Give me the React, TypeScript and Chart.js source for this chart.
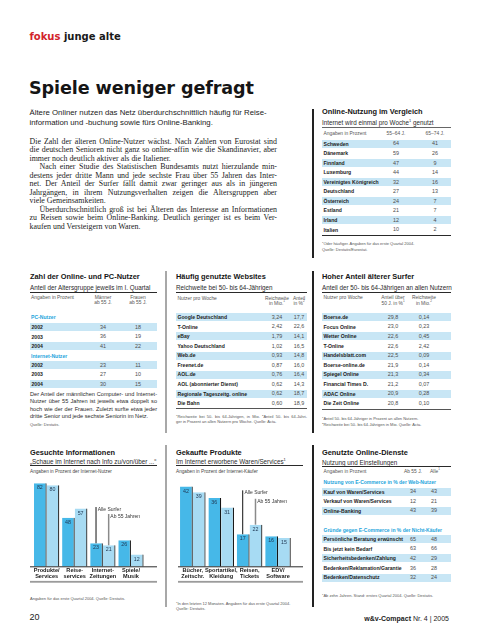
import React, { useEffect, useRef } from 'react';
import { Chart, registerables } from 'chart.js';
Chart.register(...registerables);

// ---------- data ----------
const onlineCountries = ['Schweden', 'Dänemark', 'Finnland', 'Luxemburg', 'Vereinigtes Königreich', 'Deutschland', 'Österreich', 'Estland', 'Irland', 'Italien'];
const online5564 = [64, 59, 47, 44, 32, 27, 24, 21, 12, 10];
const online6574 = [41, 26, 9, 14, 16, 13, 7, 7, 4, 2];

const years = ['2002', '2003', '2004'];
const pcMen = [34, 36, 41];
const pcWomen = [18, 19, 22];
const netMen = [23, 27, 30];
const netWomen = [11, 10, 15];

const websites = ['Google Deutschland', 'T-Online', 'eBay', 'Yahoo Deutschland', 'Web.de', 'Freenet.de', 'AOL.de', 'AOL (abonnierter Dienst)', 'Regionale Tageszeitg. online', 'Die Bahn'];
const websiteReach = [3.24, 2.42, 1.79, 1.02, 0.93, 0.87, 0.76, 0.62, 0.62, 0.6];
const websiteShare = [17.7, 22.6, 14.1, 16.5, 14.8, 16.0, 16.4, 14.3, 18.7, 18.9];

const olderSites = ['Boerse.de', 'Focus Online', 'Wetter Online', 'T-Online', 'Handelsblatt.com', 'Boerse-online.de', 'Spiegel Online', 'Financial Times D.', 'ADAC Online', 'Die Zeit Online'];
const olderShare = [29.8, 23.0, 22.6, 22.6, 22.5, 21.9, 21.3, 21.2, 20.9, 20.8];
const olderReach = [0.14, 0.23, 0.45, 2.42, 0.09, 0.14, 0.34, 0.07, 0.28, 0.1];

const seriesNames = ['Alle Surfer', 'Ab 55 Jahren'];

const infoCategories = [['Produkte/', 'Services'], ['Reise-', 'services'], ['Internet-', 'Zeitungen'], ['Spiele/', 'Musik']];
const infoAll = [82, 48, 23, 26];
const info55 = [80, 57, 21, 12];

const buyCategories = [['Bücher,', 'Zeitschr.'], ['Sportartikel,', 'Kleidung'], ['Reisen,', 'Tickets'], ['EDV/', 'Software']];
const buyAll = [42, 36, 17, 16];
const buy55 = [39, 31, 22, 15];

const ecomUses = ['Kauf von Waren/Services', 'Verkauf von Waren/Services', 'Online-Banking'];
const ecomUse55 = [34, 12, 43];
const ecomUseAll = [43, 21, 39];
const ecomReasons = ['Persönliche Beratung erwünscht', 'Bis jetzt kein Bedarf', 'Sicherheitsbedenken/Zahlung', 'Bedenken/Reklamation/Garantie', 'Bedenken/Datenschutz'];
const ecomReason55 = [65, 63, 42, 36, 32];
const ecomReasonAll = [48, 66, 29, 28, 24];

// ---------- text ----------
const leadLines = [
  'Ältere Onliner nutzen das Netz überdurchschnittlich häufig für Reise-',
  'information und -buchung sowie fürs Online-Banking.',
];
const bodyLines: [string, boolean, boolean][] = [
  ['Die Zahl der älteren Online-Nutzer wächst. Nach Zahlen von Eurostat sind', false, true],
  ['die deutschen Senioren nicht ganz so online-affin wie die Skandinavier, aber', false, true],
  ['immer noch deutlich aktiver als die Italiener.', false, false],
  ['Nach einer Studie des Statistischen Bundesamts nutzt hierzulande min-', true, true],
  ['destens jeder dritte Mann und jede sechste Frau über 55 Jahren das Inter-', false, true],
  ['net. Der Anteil der Surfer fällt damit zwar geringer aus als in jüngeren', false, true],
  ['Jahrgängen, in ihrem Nutzungsverhalten zeigen die Altersgruppen aber', false, true],
  ['viele Gemeinsamkeiten.', false, false],
  ['Überdurchschnittlich groß ist bei Älteren das Interesse an Informationen', true, true],
  ['zu Reisen sowie beim Online-Banking. Deutlich geringer ist es beim Ver-', false, true],
  ['kaufen und Versteigern von Waren.', false, false],
];
const noteLines = [
  'Der Anteil der männlichen Computer- und Internet-',
  'Nutzer über 55 Jahren ist jeweils etwa doppelt so',
  'hoch wie der der Frauen. Zuletzt surfte etwa jeder',
  'dritte Senior und jede sechste Seniorin im Netz.',
];

// ---------- styles ----------
const SANS = '"Liberation Sans", Arial, Helvetica, sans-serif';
const SERIF = '"Liberation Serif", "Times New Roman", serif';
const WIDE = '"DejaVu Sans", "Liberation Sans", sans-serif';
const BAND = '#c8e6f5';
const CYAN = '#1ea5dc';
const RED = '#d2232a';
const DARK_BAR = '#46b8e8';
const LIGHT_BAR = '#a7dbf3';

const de = (v: number, d: number) => v.toFixed(d).replace('.', ',');

function Txt(p: any) {
  const { x, y, s, children, w = 400, c = '#1a1a1a', a = 'left', f = SANS, width, justify, ls } = p;
  const lh = s * 1.25;
  const st: any = {
    position: 'absolute', top: y - lh / 2, fontSize: s, lineHeight: lh + 'px', fontWeight: w,
    color: c, fontFamily: f, whiteSpace: 'nowrap', letterSpacing: ls,
  };
  if (width !== undefined) {
    st.left = x; st.width = width; st.whiteSpace = 'normal';
    st.textAlign = justify ? 'justify' : 'left';
    st.textAlignLast = justify ? 'justify' : 'left';
  } else if (a === 'left') st.left = x;
  else if (a === 'right') st.right = 480 - x;
  else { st.left = x - 60; st.width = 120; st.textAlign = 'center'; }
  return <div style={st}>{children}</div>;
}

const Sup = ({ children }: any) => (
  <span style={{ fontSize: '0.62em', verticalAlign: 'super', lineHeight: 0 }}>{children}</span>
);

function Rule({ x0, x1, y, h = 0.8, c = '#2a2a2a' }: any) {
  return <div style={{ position: 'absolute', left: x0, top: y - h / 2, width: x1 - x0, height: h, background: c }} />;
}
function VRule({ x, y0, y1, w = 1.6, c = '#222' }: any) {
  return <div style={{ position: 'absolute', left: x - w / 2, top: y0, width: w, height: y1 - y0, background: c }} />;
}

function Row({ y, x0, x1, band, name, vals, cols }: any) {
  return (
    <>
      {band && <div style={{ position: 'absolute', left: x0, top: y - 4, width: x1 - x0, height: 8, background: BAND }} />}
      <Txt x={x0 + 1.5} y={y} s={5.1} w={700}>{name}</Txt>
      {vals.map((v: string, k: number) => (
        <Txt key={k} x={cols[k]} y={y} s={5.4} a="center" c="#4d4d4d">{v}</Txt>
      ))}
    </>
  );
}

const Head = ({ x, y, children }: any) => <Txt x={x} y={y} s={7.4} w={700} c="#151515">{children}</Txt>;
const Sub = ({ x, y, children }: any) => <Txt x={x} y={y} s={6.3} c="#2a2a2a">{children}</Txt>;
const Small = ({ x, y, children, a, c = '#555' }: any) => <Txt x={x} y={y} s={4.9} a={a} c={c}>{children}</Txt>;
const Foot = ({ x, y, children, width, justify }: any) => (
  <Txt x={x} y={y} s={4.0} c="#555" width={width} justify={justify}>{children}</Txt>
);

// ---------- chart ----------
const decor = {
  id: 'decor',
  afterDatasetsDraw(chart: any, _a: any, opts: any) {
    const { ctx, scales, width } = chart;
    const yb = scales.y.getPixelForValue(0);
    ctx.save();
    ctx.fillStyle = '#2b2b2b';
    ctx.fillRect(0, yb - 0.4, width, 1);
    ctx.fillStyle = '#9b9b9b';
    ctx.fillRect(0, yb + 14.2, width, 1.8);
    ctx.textAlign = 'center';
    ctx.textBaseline = 'middle';
    ctx.font = `5.3px ${SANS}`;
    ctx.fillStyle = '#1f3652';
    chart.data.datasets.forEach((ds: any, d: number) => {
      chart.getDatasetMeta(d).data.forEach((el: any, i: number) => {
        ctx.fillText(String(ds.data[i]), el.x - 0.5, el.y + 4.6);
      });
    });
    const anno = opts.anno as number[];
    ctx.textAlign = 'left';
    ctx.font = `5px ${SANS}`;
    chart.data.datasets.forEach((ds: any, d: number) => {
      const el: any = chart.getDatasetMeta(d).data[opts.idx];
      const ty = scales.y.getPixelForValue(anno[d]);
      ctx.strokeStyle = d === 0 ? '#111' : '#8a8a8a';
      ctx.lineWidth = d === 0 ? 1 : 1.5;
      ctx.beginPath();
      ctx.moveTo(el.x - 0.5, el.y);
      ctx.lineTo(el.x - 0.5, ty - 2.6);
      ctx.stroke();
      ctx.fillStyle = '#333';
      ctx.fillText(ds.label, el.x + 1.2, ty);
    });
    ctx.restore();
  },
};

function GroupedBars({ left, width, labels, all, older, max, padL, padR, anno }: any) {
  const ref = useRef<HTMLCanvasElement>(null);
  useEffect(() => {
    const border = { top: 0, right: 1.2, bottom: 0, left: 0 };
    const c = new Chart(ref.current!, {
      type: 'bar',
      data: {
        labels,
        datasets: [
          { label: seriesNames[0], data: all, backgroundColor: DARK_BAR, borderColor: '#151515', borderWidth: border, borderSkipped: false },
          { label: seriesNames[1], data: older, backgroundColor: LIGHT_BAR, borderColor: '#151515', borderWidth: border, borderSkipped: false },
        ],
      },
      options: {
        animation: false,
        responsive: false,
        events: [],
        layout: { padding: { left: padL, right: padR, top: 5, bottom: 10.1 } },
        datasets: { bar: { categoryPercentage: 0.9, barPercentage: 1 } },
        plugins: { legend: { display: false }, tooltip: { enabled: false }, decor: { anno, idx: 2 } },
        scales: {
          x: {
            grid: { display: false, drawTicks: false },
            border: { display: false },
            ticks: { color: '#1a1a1a', autoSkip: false, maxRotation: 0, padding: 1, font: { family: SANS, size: 5.6, weight: 'bold', lineHeight: 1 } },
          },
          y: { display: false, min: 0, max },
        },
      } as any,
      plugins: [decor as any],
    });
    return () => c.destroy();
  }, []);
  return <canvas ref={ref} width={width} height={120} style={{ position: 'absolute', left, top: 470, width, height: 120 }} />;
}

// ---------- page ----------
export default function App() {
  useEffect(() => { document.body.style.margin = '0'; }, []);
  const TR = { x0: 322, x1: 451 };
  return (
    <div style={{ position: 'absolute', left: 0, top: 0, width: 480, height: 640, background: '#fff', overflow: 'hidden' }}>
      {/* header */}
      <Txt x={29.5} y={37.5} s={10} w={700} f={WIDE} c="#1a1a1a"><span style={{ color: RED }}>fokus</span> junge alte</Txt>
      <Txt x={29} y={88} s={17.6} w={700} f={WIDE} c="#151515" ls={-0.1}>Spiele weniger gefragt</Txt>
      {leadLines.map((l, i) => <Txt key={i} x={29.5} y={113.3 + i * 10} s={7.8} c="#222">{l}</Txt>)}
      {bodyLines.map(([l, indent, just], i) => (
        <Txt key={i} x={indent ? 39.5 : 29.5} y={141.7 + i * 8.5} s={7.9} f={SERIF} c="#222" width={indent ? 237.5 : 247.5} justify={just}>{l}</Txt>
      ))}

      {/* top right table */}
      <VRule x={313} y0={109} y1={258} />
      <Head x={TR.x0} y={111.7}>Online-Nutzung im Vergleich</Head>
      <Sub x={TR.x0} y={122.8}>Internet wird einmal pro Woche<Sup>1</Sup> genutzt</Sub>
      <Rule x0={TR.x0} x1={TR.x1} y={127.3} h={1.6} c="#666" />
      <Small x={TR.x0 + 1.5} y={134.3}>Angaben in Prozent</Small>
      <Small x={396} y={134.3} a="center">55–64 J.</Small>
      <Small x={435} y={134.3} a="center">65–74 J.</Small>
      {onlineCountries.map((n, i) => (
        <Row key={n} y={143.8 + i * 9.55} x0={TR.x0} x1={TR.x1} band={i % 2 === 0} name={n}
          vals={[String(online5564[i]), String(online6574[i])]} cols={[396, 435]} />
      ))}
      <Rule x0={TR.x0} x1={TR.x1} y={235} />
      <Foot x={TR.x0} y={243}><Sup>1</Sup>Oder häufiger. Angaben für das erste Quartal 2004.</Foot>
      <Foot x={TR.x0} y={249.3}>Quelle: Destatis/Eurostat.</Foot>

      {/* middle separators */}
      <VRule x={166} y0={271} y1={433} c="#a8a8a8" />
      <VRule x={313} y0={271} y1={433} />

      {/* col 1 middle */}
      <Head x={30} y={277}>Zahl der Online- und PC-Nutzer</Head>
      <Sub x={30} y={288}>Anteil der Altersgruppe jeweils im I. Quartal</Sub>
      <Rule x0={30} x1={157} y={292.5} />
      <Small x={31} y={297.8}>Angaben in Prozent</Small>
      <Small x={103} y={297.8} a="center">Männer</Small>
      <Small x={103} y={303.3} a="center">ab 55 J.</Small>
      <Small x={138} y={297.8} a="center">Frauen</Small>
      <Small x={138} y={303.3} a="center">ab 55 J.</Small>
      <Txt x={31} y={317.3} s={5.1} w={700} c={CYAN}>PC-Nutzer</Txt>
      {years.map((yr, i) => (
        <Row key={'pc' + yr} y={327.3 + i * 9.4} x0={30} x1={157} band={i % 2 === 0} name={yr}
          vals={[String(pcMen[i]), String(pcWomen[i])]} cols={[103, 138]} />
      ))}
      <Txt x={31} y={355.7} s={5.1} w={700} c={CYAN}>Internet-Nutzer</Txt>
      {years.map((yr, i) => (
        <Row key={'net' + yr} y={365 + i * 9.5} x0={30} x1={157} band={i % 2 === 0} name={yr}
          vals={[String(netMen[i]), String(netWomen[i])]} cols={[103, 138]} />
      ))}
      {noteLines.map((l, i) => (
        <Txt key={i} x={30} y={394 + i * 7.65} s={5.6} c="#2a2a2a" width={127} justify={i < 3}>{l}</Txt>
      ))}
      <Foot x={30} y={424.3}>Quelle: Destatis.</Foot>

      {/* col 2 middle */}
      <Head x={176} y={277}>Häufig genutzte Websites</Head>
      <Sub x={176} y={288}>Reichweite bei 50- bis 64-Jährigen</Sub>
      <Rule x0={176} x1={307} y={292.5} />
      <Small x={177.5} y={298.8}>Nutzer pro Woche</Small>
      <Small x={277} y={298.8} a="center">Reichweite</Small>
      <Small x={277} y={304.3} a="center">in Mio.<Sup>1</Sup></Small>
      <Small x={299} y={298.8} a="center">Anteil</Small>
      <Small x={299} y={304.3} a="center">in %<Sup>2</Sup></Small>
      {websites.map((n, i) => (
        <Row key={n} y={317.3 + i * 9.55} x0={176} x1={307} band={i % 2 === 0} name={n}
          vals={[de(websiteReach[i], 2), de(websiteShare[i], 1)]} cols={[277, 299]} />
      ))}
      <Rule x0={176} x1={307} y={408.5} c="#555" />
      <Foot x={176} y={416} width={131} justify><Sup>1</Sup>Reichweite bei 50- bis 64-Jährigen, in Mio. <Sup>2</Sup>Anteil 50- bis 64-Jähri-</Foot>
      <Foot x={176} y={421.7}>ger in Prozent an allen Nutzern pro Woche. Quelle: Acta.</Foot>

      {/* col 3 middle */}
      <Head x={TR.x0} y={277}>Hoher Anteil älterer Surfer</Head>
      <Sub x={TR.x0} y={288}>Anteil der 50- bis 64-Jährigen an allen Nutzern</Sub>
      <Rule x0={TR.x0} x1={TR.x1} y={292.5} />
      <Small x={TR.x0 + 1.5} y={298.3}>Nutzer pro Woche</Small>
      <Small x={393} y={298.3} a="center">Anteil über</Small>
      <Small x={393} y={303.8} a="center">50 J. in %<Sup>1</Sup></Small>
      <Small x={424} y={298.3} a="center">Reichweite</Small>
      <Small x={424} y={303.8} a="center">in Mio.<Sup>2</Sup></Small>
      {olderSites.map((n, i) => (
        <Row key={n} y={317.3 + i * 9.55} x0={TR.x0} x1={TR.x1} band={i % 2 === 0} name={n}
          vals={[de(olderShare[i], 1), de(olderReach[i], 2)]} cols={[393, 424]} />
      ))}
      <Rule x0={TR.x0} x1={TR.x1} y={409} c="#555" />
      <Foot x={TR.x0} y={418}><Sup>1</Sup>Anteil 50- bis 64-Jähriger in Prozent an allen Nutzern.</Foot>
      <Foot x={TR.x0} y={424}><Sup>2</Sup>Reichweite bei 50- bis 64-Jährigen in Mio. Quelle: Acta.</Foot>

      {/* bottom separators */}
      <VRule x={166} y0={445} y1={607} c="#a8a8a8" />
      <VRule x={313} y0={445} y1={607} />

      {/* chart 1 */}
      <Head x={30} y={452.7}>Gesuchte Informationen</Head>
      <Sub x={30} y={461.5}>„Schaue im Internet nach Info zu/von/über ...“</Sub>
      <Rule x0={30} x1={157} y={465.5} />
      <Txt x={30} y={472.3} s={4.7} c="#444">Angaben in Prozent der Internet-Nutzer</Txt>
      <GroupedBars left={30} width={127} labels={infoCategories} all={infoAll} older={info55} max={90} padL={2.6} padR={12} anno={[56, 49.2]} />
      <Foot x={30} y={598.3}>Angaben für das erste Quartal 2004. Quelle: Destatis.</Foot>

      {/* chart 2 */}
      <Head x={176} y={452.7}>Gekaufte Produkte</Head>
      <Sub x={176} y={461.5}>Im Internet erworbene Waren/Services<Sup>1</Sup></Sub>
      <Rule x0={176} x1={303} y={465.5} />
      <Txt x={176} y={472.3} s={4.7} c="#444">Angaben in Prozent der Internet-Käufer</Txt>
      <GroupedBars left={178} width={125} labels={buyCategories} all={buyAll} older={buy55} max={48} padL={0.6} padR={10.8} anno={[38.6, 34.2]} />
      <Foot x={176} y={603.3}><Sup>1</Sup>In den letzten 12 Monaten. Angaben für das erste Quartal 2004.</Foot>
      <Foot x={176} y={608.5}>Quelle: Destatis.</Foot>

      {/* col 3 bottom */}
      <Head x={TR.x0} y={452.7}>Genutzte Online-Dienste</Head>
      <Sub x={TR.x0} y={462.5}>Nutzung und Einstellungen</Sub>
      <Rule x0={TR.x0} x1={TR.x1} y={466.2} />
      <Small x={TR.x0 + 1.5} y={472.3}>Angaben in Prozent</Small>
      <Small x={413} y={472.3} a="center">Ab 55 J.</Small>
      <Small x={435} y={472.3} a="center">Alle<Sup>1</Sup></Small>
      <Txt x={TR.x0 + 1.5} y={481.7} s={5.0} w={700} c={CYAN}>Nutzung von E-Commerce in % der Web-Nutzer</Txt>
      {ecomUses.map((n, i) => (
        <Row key={n} y={491.7 + i * 9.5} x0={TR.x0} x1={TR.x1} band={i % 2 === 0} name={n}
          vals={[String(ecomUse55[i]), String(ecomUseAll[i])]} cols={[413, 434]} />
      ))}
      <Txt x={TR.x0 + 1.5} y={530} s={5.0} w={700} c={CYAN}>Gründe gegen E-Commerce in % der Nicht-Käufer</Txt>
      {ecomReasons.map((n, i) => (
        <Row key={n} y={539.3 + i * 9.55} x0={TR.x0} x1={TR.x1} band={i % 2 === 0} name={n}
          vals={[String(ecomReason55[i]), String(ecomReasonAll[i])]} cols={[413, 434]} />
      ))}
      <Foot x={TR.x0} y={595}><Sup>1</Sup>Ab zehn Jahren. Stand: erstes Quartal 2004. Quelle: Destatis.</Foot>

      {/* footer */}
      <Txt x={29.5} y={618} s={9} c="#222">20</Txt>
      <Txt x={449} y={619.5} s={7} a="right" c="#222"><b>w&amp;v-Compact</b> Nr. 4 | 2005</Txt>
    </div>
  );
}
